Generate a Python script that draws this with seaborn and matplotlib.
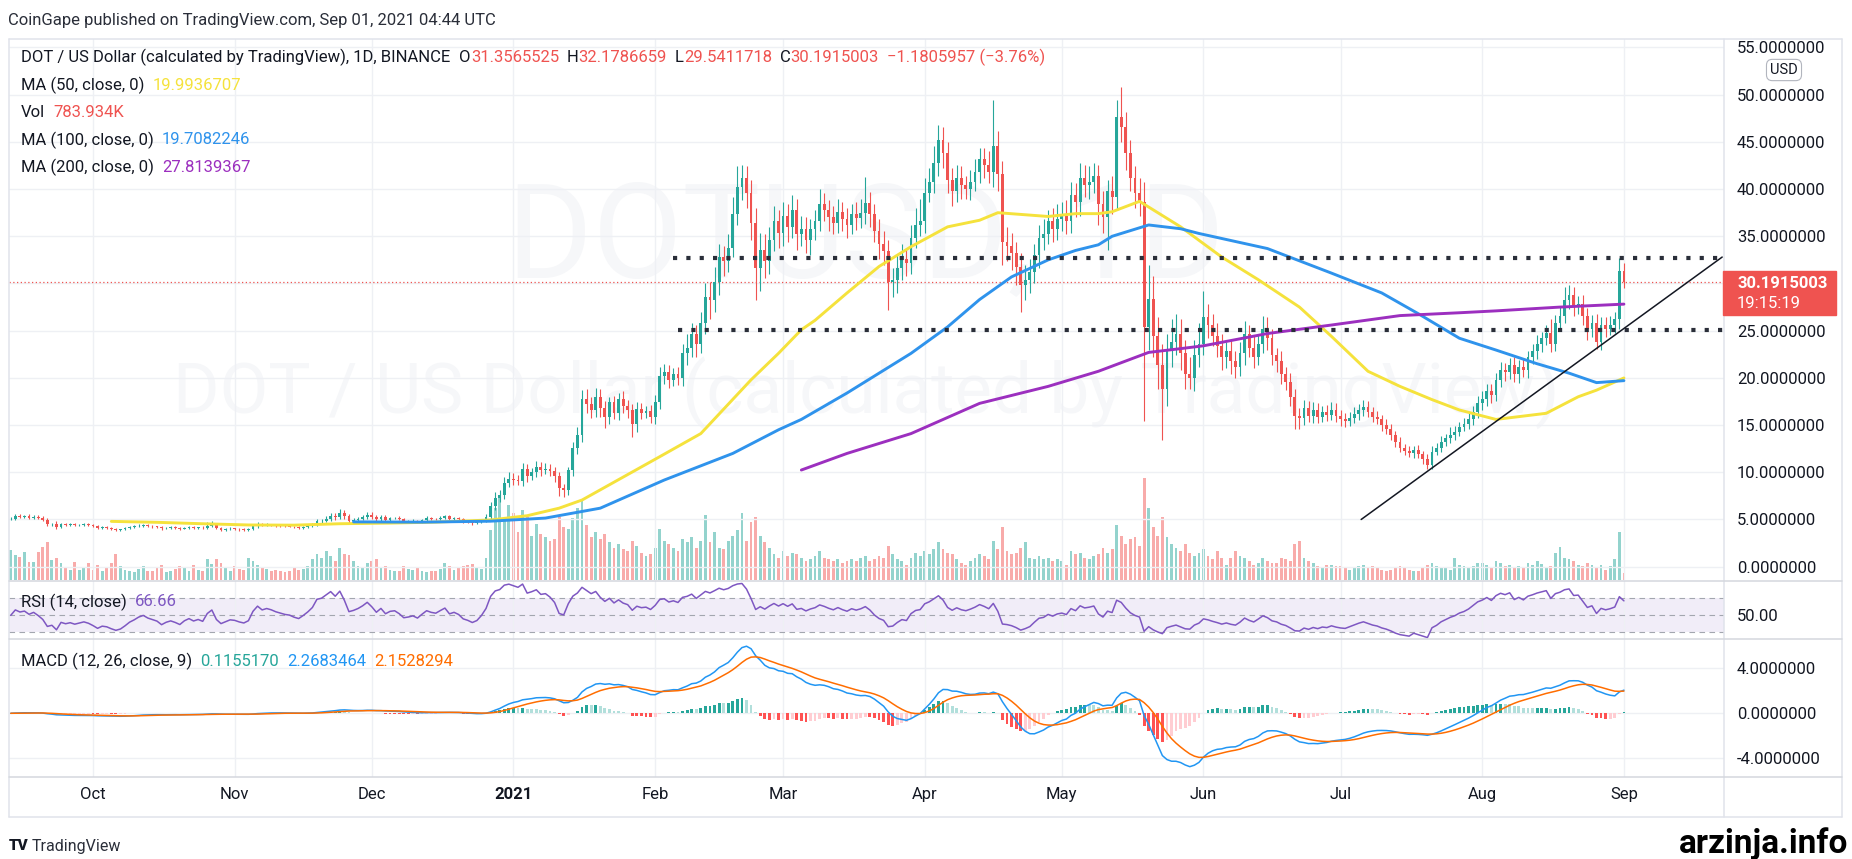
import numpy as np
import pandas as pd
import matplotlib
matplotlib.use("Agg")
import matplotlib.pyplot as plt
from matplotlib.lines import Line2D
from matplotlib.patches import Rectangle
from matplotlib.ticker import FormatStrFormatter
import seaborn as sns

sns.set_theme(style="white")
plt.rcParams['font.family'] = ['Roboto', 'DejaVu Sans']

# ---------------- DOT / USD daily, 2020-09-13 .. 2021-09-01
first_open = 5.02
close_sep20 = [5.10, 5.40, 5.30, 5.35, 5.20, 5.30, 5.15, 4.95, 4.50, 4.55, 4.20, 4.55, 4.45, 4.50, 4.40, 4.45, 4.50, 4.42]
close_oct20 = [4.28, 4.10, 4.18, 4.14, 4.02, 3.92, 3.96, 4.06, 4.18, 4.26, 4.36, 4.42, 4.32, 4.26, 4.20, 4.05,
               4.12, 4.16, 4.10, 4.02, 4.12, 4.18, 4.10, 4.14, 4.08, 4.30, 4.42, 4.10, 3.92, 3.98, 4.04]
close_nov20 = [4.02, 3.96, 3.92, 3.98, 4.28, 4.50, 4.38, 4.44, 4.40, 4.34, 4.30, 4.26, 4.24, 4.18, 4.14,
               4.22, 4.32, 4.46, 4.82, 4.88, 5.08, 5.34, 5.22, 5.66, 5.36, 4.86, 4.94, 5.06, 5.24, 5.50]
close_dec20 = [5.30, 5.02, 5.28, 4.98, 5.14, 5.18, 5.02, 4.78, 4.82, 4.88, 4.76, 4.96, 5.16, 5.08, 5.04, 5.18,
               5.32, 5.06, 5.14, 5.04, 4.82, 4.74, 4.62, 4.70, 4.92, 5.30, 6.40, 7.30, 7.60, 8.90, 9.30]
close_jan21 = [9.20, 9.10, 10.30, 9.60, 10.00, 10.60, 10.20, 10.40, 10.10, 9.60, 8.30, 8.10, 10.20, 12.60, 14.00,
               17.80, 17.20, 16.60, 18.00, 16.80, 15.90, 17.40, 16.30, 17.80, 17.00, 16.60, 15.10, 16.70, 16.30, 16.50, 15.90]
close_feb21 = [17.40, 20.20, 20.60, 19.80, 20.40, 20.00, 22.60, 23.20, 24.60, 23.60, 25.80, 28.60, 28.20, 30.20,
               32.80, 32.40, 33.80, 37.40, 40.20, 41.20, 39.60, 36.40, 31.60, 33.60, 32.40, 34.60, 36.60, 35.40]
close_mar21 = [37.20, 36.00, 37.80, 35.20, 35.80, 34.60, 35.80, 36.60, 38.40, 37.80, 37.00, 36.40, 37.60, 36.80, 36.20,
               37.40, 36.90, 37.50, 38.50, 37.40, 35.60, 34.20, 33.40, 30.20, 30.40, 31.60, 32.60, 32.20, 34.80, 36.20, 36.60]
close_apr21 = [39.60, 40.80, 42.80, 45.20, 43.80, 41.00, 39.80, 41.20, 40.40, 40.00, 40.80, 41.80, 43.20, 42.60, 41.80,
               44.60, 41.60, 34.40, 34.00, 33.20, 31.80, 29.80, 30.40, 31.20, 33.00, 34.80, 35.20, 36.60, 35.80, 36.80]
close_may21 = [37.20, 36.60, 39.40, 38.60, 41.20, 40.40, 40.80, 41.40, 38.40, 37.00, 39.80, 39.20, 47.60, 46.60, 43.80,
               41.20, 39.60, 38.60, 25.40, 28.40, 24.40, 21.40, 18.80, 22.80, 23.80, 24.60, 22.60, 20.40, 20.00, 22.40, 23.60]
close_jun21 = [26.40, 25.60, 24.40, 23.40, 22.20, 22.80, 21.80, 21.20, 22.60, 24.60, 23.20, 22.20, 23.60, 25.20, 24.20,
               22.40, 21.80, 20.40, 19.60, 18.00, 16.00, 15.80, 16.80, 16.00, 16.60, 15.90, 16.40, 16.10, 16.60, 16.00]
close_jul21 = [15.60, 15.40, 15.80, 16.20, 16.60, 16.90, 16.40, 15.90, 15.60, 15.00, 14.60, 14.00, 13.20, 12.60, 12.30,
               12.00, 12.40, 11.90, 11.40, 10.80, 12.20, 12.60, 13.20, 13.60, 14.00, 14.30, 14.80, 15.10, 15.60, 16.40, 17.30]
close_aug21 = [17.80, 18.60, 18.20, 19.80, 20.80, 20.60, 21.40, 20.40, 21.20, 20.80, 22.20, 22.80, 23.60, 24.20, 24.80,
               23.60, 25.80, 26.60, 28.20, 28.80, 27.60, 27.80, 26.60, 25.20, 25.80, 23.80, 25.60, 25.20, 25.60, 26.20, 31.3565525]
close_sep21 = [30.1915003]

# wick lengths above the body / below the body
hi_sep20 = [0.18, 0.22, 0.15, 0.12, 0.20, 0.14, 0.16, 0.25, 0.20, 0.12, 0.24, 0.12, 0.10, 0.12, 0.15, 0.10, 0.12, 0.10]
lo_sep20 = [0.12, 0.15, 0.12, 0.18, 0.10, 0.15, 0.12, 0.16, 0.22, 0.16, 0.18, 0.12, 0.10, 0.12, 0.10, 0.12, 0.10, 0.14]
hi_oct20 = [0.10, 0.14, 0.08, 0.12, 0.10, 0.12, 0.08, 0.10, 0.12, 0.14, 0.16, 0.12, 0.10, 0.08, 0.10, 0.12,
            0.08, 0.10, 0.12, 0.08, 0.10, 0.12, 0.08, 0.10, 0.12, 0.40, 0.45, 0.12, 0.10, 0.10, 0.12]
lo_oct20 = [0.12, 0.10, 0.10, 0.12, 0.14, 0.18, 0.10, 0.08, 0.10, 0.12, 0.10, 0.14, 0.10, 0.12, 0.10, 0.14,
            0.10, 0.08, 0.12, 0.10, 0.08, 0.10, 0.12, 0.08, 0.10, 0.12, 0.14, 0.12, 0.16, 0.10, 0.12]
hi_nov20 = [0.10, 0.12, 0.10, 0.14, 0.20, 0.25, 0.12, 0.14, 0.10, 0.12, 0.10, 0.08, 0.10, 0.12, 0.10,
            0.14, 0.12, 0.16, 0.22, 0.18, 0.25, 0.30, 0.35, 0.45, 0.30, 0.25, 0.18, 0.20, 0.22, 0.25]
lo_nov20 = [0.12, 0.14, 0.16, 0.10, 0.12, 0.15, 0.12, 0.10, 0.12, 0.10, 0.12, 0.10, 0.08, 0.12, 0.10,
            0.12, 0.10, 0.14, 0.12, 0.16, 0.15, 0.20, 0.25, 0.22, 0.30, 0.35, 0.20, 0.18, 0.15, 0.20]
hi_dec20 = [0.25, 0.20, 0.22, 0.18, 0.15, 0.12, 0.14, 0.12, 0.10, 0.12, 0.10, 0.14, 0.18, 0.12, 0.10, 0.14,
            0.20, 0.15, 0.12, 0.10, 0.12, 0.10, 0.12, 0.14, 0.18, 0.30, 0.50, 0.60, 0.55, 0.60, 0.70]
lo_dec20 = [0.20, 0.22, 0.15, 0.18, 0.12, 0.14, 0.12, 0.15, 0.12, 0.10, 0.14, 0.12, 0.10, 0.12, 0.14, 0.10,
            0.12, 0.15, 0.12, 0.14, 0.16, 0.12, 0.18, 0.12, 0.10, 0.15, 0.25, 0.40, 0.50, 0.45, 0.50]
hi_jan21 = [0.60, 0.50, 0.70, 0.60, 0.50, 0.60, 0.50, 0.55, 0.50, 0.45, 0.40, 0.50, 0.40, 0.60, 0.80, 0.90,
            1.00, 0.80, 0.90, 0.80, 0.70, 0.60, 0.70, 0.60, 0.80, 0.70, 0.60, 0.70, 0.60, 0.50, 0.60]
lo_jan21 = [0.50, 0.40, 0.50, 0.60, 0.40, 0.50, 0.60, 0.40, 0.50, 0.60, 0.80, 0.70, 0.50, 0.60, 0.70, 0.80,
            0.90, 0.80, 0.70, 0.90, 1.20, 0.80, 0.70, 0.80, 0.70, 0.90, 1.40, 0.80, 0.70, 0.60, 0.70]
hi_feb21 = [0.80, 1.00, 0.90, 0.80, 0.70, 0.80, 1.00, 1.40, 1.20, 1.00, 1.20, 1.40, 1.60, 1.60,
            1.40, 1.20, 1.40, 1.80, 2.20, 1.40, 1.20, 1.40, 1.60, 1.80, 1.60, 1.40, 1.60, 1.20]
lo_feb21 = [0.80, 0.70, 0.80, 0.90, 0.70, 0.80, 0.90, 1.20, 1.00, 1.40, 1.00, 1.20, 2.00, 1.20,
            1.40, 1.60, 1.20, 1.00, 1.20, 1.40, 1.60, 1.80, 3.40, 2.40, 1.80, 1.40, 1.20, 1.60]
hi_mar21 = [1.40, 1.20, 1.60, 1.20, 1.40, 1.20, 1.00, 1.20, 1.60, 1.20, 1.00, 1.20, 1.40, 1.00, 1.20, 1.00,
            1.20, 1.40, 2.80, 1.20, 1.00, 1.20, 1.40, 1.20, 1.20, 1.40, 1.60, 1.20, 1.40, 1.80, 2.40]
lo_mar21 = [1.40, 1.60, 1.20, 1.60, 1.20, 1.40, 1.60, 1.20, 1.00, 1.20, 1.40, 1.20, 1.00, 1.20, 1.40, 1.00,
            1.20, 1.00, 1.20, 1.40, 1.20, 1.60, 1.40, 3.00, 1.60, 1.40, 1.20, 1.40, 1.20, 1.00, 1.20]
hi_apr21 = [1.60, 1.40, 1.80, 1.60, 1.40, 1.20, 1.20, 1.40, 1.20, 1.00, 1.20, 1.40, 1.20, 1.20, 1.40,
            4.80, 1.60, 1.40, 1.60, 1.40, 1.20, 1.40, 1.60, 1.40, 1.20, 1.40, 1.60, 1.20, 1.40, 1.60]
lo_apr21 = [1.20, 1.00, 1.20, 1.40, 1.60, 1.40, 1.60, 1.20, 1.40, 1.00, 1.20, 1.00, 1.20, 1.40, 1.20,
            1.60, 1.80, 2.40, 1.60, 1.80, 2.00, 2.80, 1.60, 1.40, 1.20, 1.40, 1.20, 1.00, 1.40, 1.20]
hi_may21 = [1.40, 1.60, 1.40, 1.20, 1.60, 1.40, 1.60, 1.40, 1.20, 1.40, 1.20, 1.60, 1.80, 3.20, 1.60, 1.40,
            1.20, 1.60, 2.20, 3.60, 2.40, 2.00, 2.20, 1.80, 2.40, 2.20, 1.60, 1.40, 1.80, 1.60, 2.20]
lo_may21 = [1.20, 1.40, 1.20, 1.60, 1.40, 1.20, 1.40, 1.20, 2.20, 1.60, 3.40, 1.80, 1.40, 1.60, 1.80, 1.40,
            1.60, 1.40, 10.0, 2.40, 2.20, 2.60, 5.40, 1.80, 1.60, 1.40, 1.80, 1.60, 1.20, 1.40, 1.20]
hi_jun21 = [2.80, 1.40, 1.20, 1.40, 1.20, 1.00, 1.20, 1.00, 1.20, 1.40, 1.00, 1.20, 1.00, 1.40, 1.20,
            1.00, 0.80, 1.00, 0.80, 0.90, 0.80, 0.80, 0.90, 0.70, 0.80, 0.70, 0.60, 0.70, 0.80, 0.70]
lo_jun21 = [1.20, 1.40, 1.00, 1.20, 1.40, 1.20, 1.40, 1.20, 1.00, 1.20, 1.00, 1.20, 0.80, 1.00, 1.20,
            1.00, 1.20, 1.00, 0.90, 1.00, 1.40, 1.20, 0.80, 0.70, 0.80, 0.70, 0.60, 0.70, 0.60, 0.70]
hi_jul21 = [0.60, 0.70, 0.60, 0.70, 0.60, 0.80, 0.60, 0.50, 0.60, 0.50, 0.60, 0.50, 0.40, 0.50, 0.40, 0.50,
            0.40, 0.50, 0.40, 0.50, 0.60, 0.50, 0.60, 0.50, 0.80, 0.60, 0.50, 0.60, 0.70, 0.60, 0.80]
lo_jul21 = [0.70, 0.60, 0.50, 0.60, 0.70, 0.60, 0.50, 0.60, 0.50, 0.60, 0.50, 0.60, 0.50, 0.40, 0.50, 0.40,
            0.50, 0.40, 0.50, 0.40, 0.50, 0.40, 0.50, 0.40, 0.50, 0.60, 0.50, 0.40, 0.50, 0.60, 0.70]
hi_aug21 = [0.80, 0.70, 0.80, 0.70, 0.90, 0.80, 0.70, 0.80, 0.70, 0.80, 0.70, 0.80, 0.90, 0.70, 0.80, 1.40,
            0.90, 1.00, 1.40, 1.00, 0.80, 0.90, 1.00, 0.80, 0.90, 1.00, 0.90, 0.80, 1.00, 0.80, 1.30]
lo_aug21 = [0.70, 0.80, 0.90, 0.70, 0.80, 0.90, 0.70, 0.80, 0.90, 0.70, 0.80, 0.70, 0.80, 0.90, 0.70, 0.90,
            0.80, 0.70, 0.80, 0.90, 1.00, 0.80, 1.00, 1.20, 0.90, 0.70, 0.80, 0.90, 0.70, 0.80, 1.00]
hi_sep21 = [0.8221134]
lo_sep21 = [0.6503285]

# volume, millions
vol_sep20 = [3.5, 2.9, 2.7, 3.3, 2.1, 2.1, 3.3, 3.9, 4.4, 2.3, 2.6, 2.0, 1.5, 1.2, 2.1, 1.2, 1.5, 2.0]
vol_oct20 = [1.2, 1.8, 1.0, 1.4, 2.0, 3.0, 1.6, 1.2, 1.0, 0.9, 1.3, 1.6, 1.1, 1.0, 1.5, 1.7,
             0.9, 1.0, 1.3, 1.6, 1.4, 1.1, 1.8, 1.2, 1.0, 2.5, 1.9, 2.4, 2.0, 1.4, 1.1]
vol_nov20 = [1.6, 1.3, 1.2, 2.6, 2.2, 1.8, 1.4, 1.3, 1.1, 1.2, 1.0, 0.9, 1.0, 1.4, 1.2,
             1.3, 1.6, 2.4, 3.0, 2.6, 3.4, 2.8, 2.2, 3.8, 3.0, 2.9, 2.2, 1.6, 1.5, 2.0]
vol_dec20 = [2.2, 2.4, 1.4, 1.6, 1.2, 1.0, 1.1, 1.6, 1.3, 1.2, 1.4, 1.0, 0.9, 1.1, 1.0, 1.3,
             2.0, 1.6, 1.2, 1.4, 1.6, 1.7, 1.9, 1.5, 1.3, 2.6, 5.8, 8.4, 9.6, 7.2, 8.8]
vol_jan21 = [7.8, 5.6, 8.2, 7.4, 5.2, 6.6, 5.4, 5.0, 4.6, 4.8, 7.4, 6.2, 6.0, 7.2, 8.4, 9.4,
             6.4, 5.0, 5.6, 4.8, 5.4, 4.4, 3.8, 4.2, 3.6, 3.4, 4.6, 4.0, 3.2, 2.8, 3.0]
vol_feb21 = [3.8, 6.0, 4.6, 4.2, 3.8, 3.4, 4.8, 4.4, 5.0, 3.8, 4.6, 7.6, 4.4, 5.6,
             3.8, 3.6, 4.6, 5.2, 5.8, 7.8, 4.6, 6.8, 7.4, 5.2, 4.4, 3.8, 3.0, 2.6]
vol_mar21 = [3.4, 2.8, 3.2, 3.0, 2.6, 2.2, 2.4, 2.8, 3.4, 2.6, 2.4, 2.2, 2.4, 2.0, 2.2, 2.4,
             2.2, 2.6, 2.8, 2.2, 2.4, 2.8, 2.6, 4.0, 3.0, 2.4, 2.2, 1.8, 2.6, 3.2, 2.8]
vol_apr21 = [3.4, 3.0, 3.6, 4.4, 3.6, 3.2, 3.0, 2.4, 2.0, 1.8, 2.2, 2.6, 3.0, 2.8, 2.4,
             4.6, 3.6, 6.2, 3.4, 3.0, 3.2, 3.8, 4.4, 2.6, 2.4, 2.8, 2.4, 2.6, 2.2, 2.4]
vol_may21 = [2.2, 1.8, 3.4, 3.0, 3.2, 2.6, 2.4, 2.8, 3.0, 3.8, 3.2, 3.6, 6.4, 5.2, 4.2, 4.8,
             5.0, 4.0, 11.9, 8.4, 6.2, 5.2, 7.4, 5.0, 4.2, 3.8, 3.4, 4.2, 3.2, 2.8, 3.2]
vol_jun21 = [3.6, 2.8, 2.4, 3.4, 2.6, 1.8, 2.6, 3.4, 2.8, 2.6, 2.2, 1.8, 2.0, 2.6, 2.2,
             2.0, 2.0, 2.6, 2.4, 2.2, 4.2, 4.6, 2.6, 2.2, 2.0, 1.6, 1.4, 1.8, 1.8, 1.6]
vol_jul21 = [1.6, 1.4, 1.2, 1.4, 1.6, 1.8, 1.4, 1.6, 1.4, 1.2, 1.0, 1.2, 1.4, 1.6, 1.4, 1.2,
             1.0, 1.0, 1.4, 1.8, 2.0, 1.6, 1.4, 1.4, 1.2, 2.6, 1.8, 1.6, 1.4, 1.6, 2.0]
vol_aug21 = [2.0, 1.8, 1.4, 2.2, 2.0, 1.6, 1.8, 1.4, 1.6, 1.5, 2.0, 1.8, 2.2, 1.9, 1.4, 1.6,
             3.2, 3.9, 2.6, 2.4, 2.2, 1.8, 1.6, 2.0, 1.8, 1.4, 1.8, 1.2, 1.6, 2.4, 5.6]
vol_sep21 = [0.783934]

# moving averages
ma50_dates = ["2020-10-05", "2020-10-15", "2020-10-25", "2020-11-04", "2020-11-14", "2020-11-24", "2020-12-05",
              "2020-12-15", "2020-12-27", "2021-01-04", "2021-01-11", "2021-01-16", "2021-02-02", "2021-02-11",
              "2021-02-22", "2021-02-28", "2021-03-05", "2021-03-08", "2021-03-15", "2021-03-22", "2021-03-29",
              "2021-04-06", "2021-04-13", "2021-04-17", "2021-04-28", "2021-05-04", "2021-05-09", "2021-05-12",
              "2021-05-18", "2021-05-27", "2021-06-05", "2021-06-13", "2021-06-22", "2021-06-29", "2021-07-07",
              "2021-07-14", "2021-07-21", "2021-07-27", "2021-08-04", "2021-08-15", "2021-08-22", "2021-08-26",
              "2021-09-01"]
ma50_vals = [4.80, 4.70, 4.55, 4.42, 4.40, 4.55, 4.62, 4.72, 4.95, 5.40, 6.20, 7.06, 11.65, 14.1, 19.8, 22.6,
             25.1, 26.1, 29.0, 31.8, 33.9, 36.0, 36.7, 37.5, 37.1, 37.4, 37.4, 37.6, 38.7, 36.0, 32.8, 30.4,
             27.5, 24.4, 20.7, 19.1, 17.7, 16.6, 15.6, 16.25, 18.0, 18.7, 19.9936707]
ma100_dates = ["2020-11-27", "2020-12-12", "2020-12-27", "2021-01-08", "2021-01-20", "2021-02-03", "2021-02-18",
               "2021-02-28", "2021-03-05", "2021-03-15", "2021-03-29", "2021-04-06", "2021-04-13", "2021-04-20",
               "2021-04-28", "2021-05-04", "2021-05-09", "2021-05-12", "2021-05-20", "2021-05-27", "2021-05-31",
               "2021-06-15", "2021-06-29", "2021-07-10", "2021-07-18", "2021-07-27", "2021-08-04", "2021-08-13",
               "2021-08-20", "2021-08-26", "2021-09-01"]
ma100_vals = [4.75, 4.72, 4.82, 5.15, 6.20, 9.18, 12.0, 14.5, 15.6, 18.4, 22.6, 25.4, 28.3, 30.7, 32.5, 33.5,
              34.1, 35.0, 36.2, 35.8, 35.3, 33.7, 31.1, 29.0, 26.8, 24.2, 22.95, 21.5, 20.5, 19.5, 19.7082246]
ma200_dates = ["2021-03-05", "2021-03-15", "2021-03-29", "2021-04-13", "2021-04-28", "2021-05-09", "2021-05-20",
               "2021-05-27", "2021-06-01", "2021-06-15", "2021-06-29", "2021-07-14", "2021-07-27", "2021-08-04",
               "2021-08-18", "2021-09-01"]
ma200_vals = [10.24, 12.0, 14.1, 17.3, 19.1, 20.7, 22.7, 23.1, 23.4, 24.7, 25.6, 26.6, 26.9, 27.1, 27.5, 27.8139367]

# drawings on the chart
level_hi, level_hi_from = 32.75, "2021-02-05"
level_lo, level_lo_from = 25.05, "2021-02-06"
trend_dates = ["2021-07-05 12:00", "2021-09-22 12:00"]
trend_vals = [5.0, 32.8]
rsi_seed = 0.08

months = ["sep20", "oct20", "nov20", "dec20", "jan21", "feb21", "mar21", "apr21", "may21", "jun21",
          "jul21", "aug21", "sep21"]
g = globals()
close = np.array(sum((g["close_" + m] for m in months), []))
up_w = np.array(sum((g["hi_" + m] for m in months), []))
dn_w = np.array(sum((g["lo_" + m] for m in months), []))
vol = np.array(sum((g["vol_" + m] for m in months), []))
dates = pd.date_range("2020-09-13", "2021-09-01", freq="D")
assert len(close) == len(dates) == len(up_w) == len(dn_w) == len(vol)

opn = np.r_[first_open, close[:-1]]
high = np.maximum(opn, close) + up_w
low = np.minimum(opn, close) - dn_w
rising = close >= opn

# indicators from the closes
s = pd.Series(close, index=dates)
macd = s.ewm(span=12, adjust=False).mean() - s.ewm(span=26, adjust=False).mean()
signal = macd.ewm(span=9, adjust=False).mean()
hist = (macd - signal).values
ag, al, rsi = rsi_seed, rsi_seed, [50.0]
for d in np.diff(close):
    ag = (ag * 13 + max(d, 0)) / 14
    al = (al * 13 + max(-d, 0)) / 14
    rsi.append(100 - 100 / (1 + ag / al))
rsi = np.array(rsi)

# ---------------- layout (pixel coordinates of the 1852x859 picture)
W, H = 1852, 859
fig = plt.figure(figsize=(W / 100, H / 100), dpi=100)
fig.patch.set_facecolor("white")


def fx(x):
    return x / W


def fy(y):
    return 1 - y / H


L, R = 9.4, 1724


def pane(top, bottom):
    return [fx(L), fy(bottom), (R - L) / W, (bottom - top) / H]


ax_vol = fig.add_axes(pane(39, 580))
ax = fig.add_axes(pane(39, 580), sharex=ax_vol)
ax_rsi = fig.add_axes(pane(580.5, 638.5), sharex=ax_vol)
ax_macd = fig.add_axes(pane(639, 777), sharex=ax_vol)
ax.patch.set_visible(False)

UP, DOWN = "#26a69a", "#ef5350"
YEL, BLU, PUR = "#f5e23c", "#2f93ec", "#9c2fbf"
TXT = "#131722"
GRID = "#eef0f4"
WMARK = "#f6f7f9"

x0 = pd.Timestamp("2020-10-01") - pd.Timedelta(days=18.3)
x1 = pd.Timestamp("2020-10-01") + pd.Timedelta(days=356.9)

# watermark
ax_vol.text(fx(866), fy(277), "DOTUSD, 1D", ha="center", va="baseline", fontsize=94,
            color=WMARK, transform=fig.transFigure, zorder=0)
ax_vol.text(fx(866), fy(413), "DOT / US Dollar (calculated by TradingView)", ha="center",
            va="baseline", fontsize=51, color=WMARK, transform=fig.transFigure, zorder=0)

# volume
ax_vol.bar(dates, vol, width=0.62, color=np.where(rising, "#93d3cd", "#f8abaa"), linewidth=0, zorder=1)
ax_vol.set_ylim(0, 63.3)
ax_vol.set_yticks([])

# candles
ccol = np.where(rising, UP, DOWN)
ax.vlines(dates, low, high, colors=ccol, linewidth=0.8, zorder=3)
ax.bar(dates, np.maximum(np.abs(close - opn), 0.06), bottom=np.minimum(opn, close), width=0.62,
       color=ccol, linewidth=0, zorder=3)

for d, v, c in [(ma50_dates, ma50_vals, YEL), (ma100_dates, ma100_vals, BLU), (ma200_dates, ma200_vals, PUR)]:
    sns.lineplot(x=pd.to_datetime(d), y=v, ax=ax, color=c, linewidth=2.1, estimator=None,
                 errorbar=None, zorder=4)

ax.hlines(level_hi, pd.Timestamp(level_hi_from), x1, colors="#2a2e39", linewidth=3,
          linestyles=(0, (1, 2.2)), zorder=5)
ax.hlines(level_lo, pd.Timestamp(level_lo_from), x1, colors="#2a2e39", linewidth=3,
          linestyles=(0, (1, 2.2)), zorder=5)
ax.plot(pd.to_datetime(trend_dates), trend_vals, color=TXT, linewidth=1.1, zorder=5)
ax.axhline(close[-1], color=DOWN, linewidth=0.9, linestyle=(0, (1, 2)), zorder=2)

ax.set_ylim(-1.41, 55.9)
ax.set_yticks(np.arange(0, 56, 5))
ax.yaxis.set_major_formatter(FormatStrFormatter("%.7f"))

# RSI
ax_rsi.axhspan(30, 70, color="#7e57c2", alpha=0.1, linewidth=0, zorder=0)
for lv in (30, 50, 70):
    ax_rsi.axhline(lv, color="#a3a6af", linewidth=0.8, linestyle=(0, (5, 4)), zorder=1)
sns.lineplot(x=dates, y=rsi, ax=ax_rsi, color="#7e57c2", linewidth=1.1, estimator=None, errorbar=None)
ax_rsi.set_ylim(22.7, 90.9)
ax_rsi.set_yticks([50])
ax_rsi.yaxis.set_major_formatter(FormatStrFormatter("%.2f"))

# MACD
prev = np.r_[hist[0], hist[:-1]]
hcol = np.where(hist >= 0, np.where(hist >= prev, "#26a69a", "#b2dfdb"),
                np.where(hist < prev, "#ff5252", "#ffcdd2"))
ax_macd.bar(dates, hist, width=0.62, color=hcol, linewidth=0, zorder=2)
sns.lineplot(x=dates, y=macd.values, ax=ax_macd, color="#2196f3", linewidth=1.1, estimator=None, errorbar=None)
sns.lineplot(x=dates, y=signal.values, ax=ax_macd, color="#ff6d00", linewidth=1.1, estimator=None, errorbar=None)
ax_macd.set_ylim(-5.66, 6.6)
ax_macd.set_yticks([-4, 0, 4])
ax_macd.yaxis.set_major_formatter(FormatStrFormatter("%.7f"))

month_starts = pd.date_range("2020-10-01", "2021-09-01", freq="MS")
month_labels = ["Oct", "Nov", "Dec", "2021", "Feb", "Mar", "Apr", "May", "Jun", "Jul", "Aug", "Sep"]
ax_macd.set_xticks(month_starts)
ax_macd.set_xticklabels(month_labels)
ax_macd.set_xlim(x0, x1)

for a in (ax_vol, ax, ax_rsi, ax_macd):
    for sp in a.spines.values():
        sp.set_visible(False)
    a.set_xlabel("")
    a.set_ylabel("")
for a in (ax, ax_rsi, ax_macd):
    a.yaxis.tick_right()
    a.tick_params(axis="y", length=0, pad=9.4, labelsize=12, labelcolor=TXT)
    a.grid(True, axis="x", color=GRID, linewidth=1)
    a.set_axisbelow(True)
ax.grid(True, axis="y", color=GRID, linewidth=1)
ax_macd.grid(True, axis="y", color=GRID, linewidth=1)
for a in (ax_vol, ax, ax_rsi):
    a.tick_params(axis="x", labelbottom=False, length=0)
ax_macd.tick_params(axis="x", length=0, pad=7.5, labelsize=12, labelcolor=TXT)
for lbl in ax_macd.get_xticklabels():
    if lbl.get_text() == "2021":
        lbl.set_fontweight("bold")

# frame
for (xa, ya), (xb, yb), c in [((L, 39), (1842, 39), "#e0e3eb"), ((L, 817), (1842, 817), "#e0e3eb"),
                              ((L, 39), (L, 817), "#e0e3eb"), ((1842, 39), (1842, 817), "#e0e3eb"),
                              ((R, 39), (R, 817), "#e0e3eb"), ((L, 580.5), (1842, 580.5), "#d4d7de"),
                              ((L, 638.7), (1842, 638.7), "#d4d7de"), ((L, 777), (1842, 777), "#d4d7de")]:
    fig.add_artist(Line2D([fx(xa), fx(xb)], [fy(ya), fy(yb)], color=c, linewidth=1.1,
                          transform=fig.transFigure))

# texts
renderer = fig.canvas.get_renderer()


def text_row(x, y, parts, size=12):
    for s_, c_, gap in parts:
        t = fig.text(fx(x), fy(y), s_, color=c_, fontsize=size, ha="left", va="center")
        x += t.get_window_extent(renderer).width + gap


fig.text(fx(8), fy(20), "CoinGape published on TradingView.com, Sep 01, 2021 04:44 UTC",
         fontsize=12, color="#2a2e39", va="center")
text_row(21, 57.5, [("DOT / US Dollar (calculated by TradingView), 1D, BINANCE", TXT, 9),
                    ("O", TXT, 0), ("31.3565525", DOWN, 8), ("H", TXT, 0), ("32.1786659", DOWN, 8),
                    ("L", TXT, 0), ("29.5411718", DOWN, 8), ("C", TXT, 0), ("30.1915003", DOWN, 8),
                    ("\u22121.1805957 (\u22123.76%)", DOWN, 0)])
text_row(21, 85, [("MA (50, close, 0)", TXT, 8), ("19.9936707", YEL, 0)])
text_row(21, 112.5, [("Vol", TXT, 8), ("783.934K", DOWN, 0)])
text_row(21, 140, [("MA (100, close, 0)", TXT, 8), ("19.7082246", BLU, 0)])
text_row(21, 167.5, [("MA (200, close, 0)", TXT, 8), ("27.8139367", PUR, 0)])
text_row(21, 602, [("RSI (14, close)", TXT, 8), ("66.66", "#7e57c2", 0)])
text_row(21, 661, [("MACD (12, 26, close, 9)", TXT, 8), ("0.1155170", "#26a69a", 8),
                   ("2.2683464", "#2196f3", 8), ("2.1528294", "#ff6d00", 0)])

# price tag and currency box on the scale
fig.add_artist(Rectangle((fx(1723), fy(315)), (1836 - 1723) / W, (315 - 271) / H, color=DOWN,
                         transform=fig.transFigure, zorder=5))
fig.text(fx(1737), fy(283), "30.1915003", color="white", fontsize=12, fontweight="bold", va="center", zorder=6)
fig.text(fx(1737), fy(303), "19:15:19", color="white", fontsize=12, va="center", zorder=6)
fig.text(fx(1784), fy(70), "USD", ha="center", va="center", fontsize=10.5, color=TXT, zorder=6,
         bbox=dict(boxstyle="round,pad=0.25,rounding_size=0.4", fc="white", ec="#b2b5be", lw=0.8))

# footer
fig.text(fx(9), fy(846), "TV", fontsize=11, fontweight="black", color=TXT, va="center")
fig.text(fx(32), fy(846), "TradingView", fontsize=11.5, color="#2a2e39", va="center")
fig.text(fx(1848), fy(853), "arzinja.info", fontsize=24, fontweight="bold", color="black",
         ha="right", va="baseline")

fig.savefig("out.png", dpi=100, facecolor="white")
